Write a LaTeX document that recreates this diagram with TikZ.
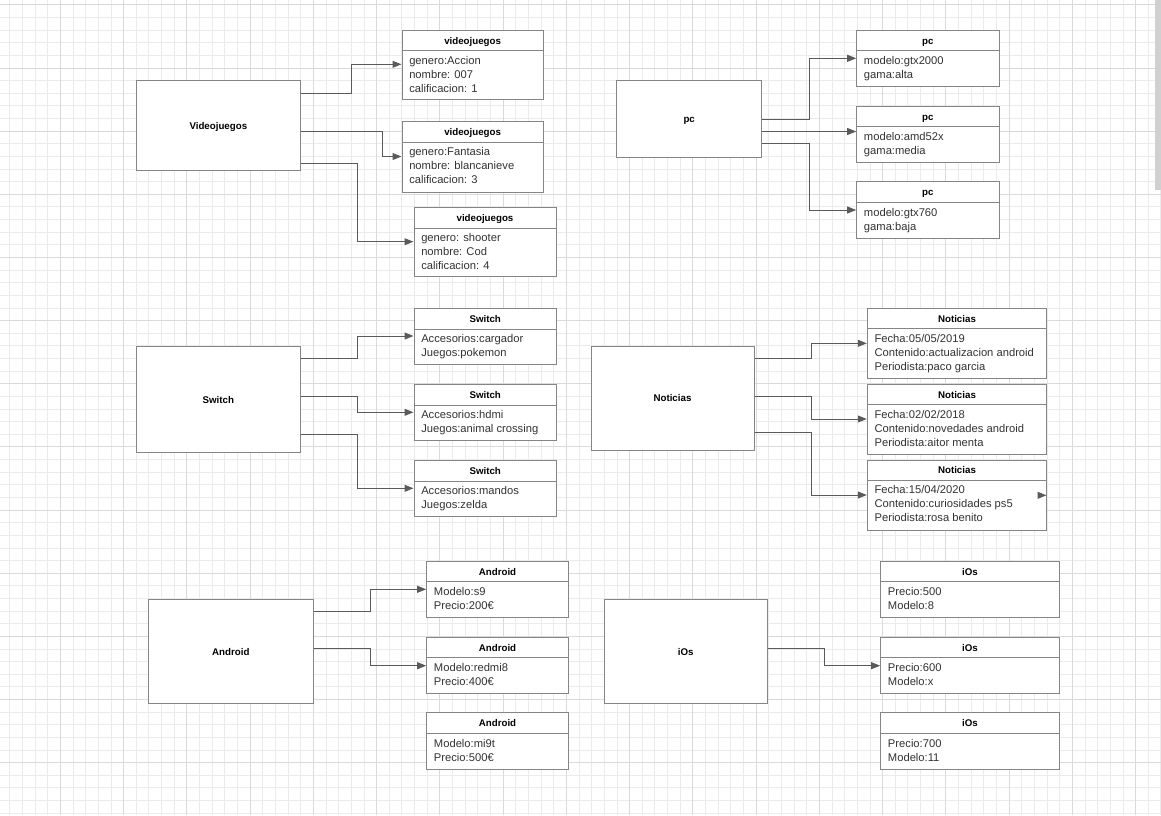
\documentclass[tikz,border=0pt]{standalone}
\usepackage{fontspec}
\setmainfont{Liberation Sans}
\usetikzlibrary{arrows.meta}
\definecolor{gridminor}{HTML}{EBEBEB}
\definecolor{gridmajor}{HTML}{DADADA}
\definecolor{boxline}{HTML}{858585}
\definecolor{connline}{HTML}{5A5A5A}
\definecolor{bodytext}{HTML}{333333}
\definecolor{scrollbar}{HTML}{D0D0D0}

\tikzset{
  mainbox/.style={draw=boxline, line width=0.75pt, fill=white, inner sep=0pt,
    font=\fontsize{7.3}{8.5}\selectfont\bfseries, text=black, text height=6pt, text depth=0.4pt},
  cbox/.style={draw=boxline, line width=0.75pt, fill=white, inner sep=0pt},
  cline/.style={draw=boxline, line width=0.75pt},
  ctitle/.style={inner sep=0pt, font=\fontsize{7.3}{8.5}\selectfont\bfseries, text=black, text height=6pt, text depth=0.4pt},
  cbody/.style={inner sep=0pt, anchor=north west, align=left, text=bodytext,
    font=\fontsize{8.4}{10.5}\selectfont},
  conn/.style={draw=connline, line width=0.75pt, -{Triangle[length=6.75pt,width=5.2pt]}},
  gmin/.style={draw=gridminor, line width=0.6pt},
  gmaj/.style={draw=gridmajor, line width=0.6pt}
}

\newcommand\mainboxnode[6]{%
  \node[mainbox, minimum width={(#4-#2)*0.75pt}, minimum height={(#5-#3)*0.75pt}] (#1) at ({(#2+#4)/2},{(#3+#5)/2}) {#6};}

\newcommand\classbox[8]{%
  \node[cbox, minimum width={(#4-#2)*0.75pt}, minimum height={(#5-#3)*0.75pt}] (#1) at ({(#2+#4)/2},{(#3+#5)/2}) {};
  \draw[cline] (#1.west |- 0,#6) -- (#1.east |- 0,#6);
  \node[ctitle] (#1-t) at ({(#2+#4)/2},{(#3+#6)/2}) {#7};
  \node[cbody] (#1-b) at ({#2+7},{#6+5.1}) {\rule{0pt}{6.3pt}#8};
}

\begin{document}
\begin{tikzpicture}[x=0.75pt, y=-0.75pt]
\useasboundingbox (0,0) rectangle (1161,815);
\fill[white] (0,0) rectangle (1161,815);

% grid
\foreach \i in {0,...,91} \draw[gmin] ({9.7+\i*12.65},0) -- ({9.7+\i*12.65},815);
\foreach \j in {0,...,64} \draw[gmin] (0,{4.8+\j*12.63}) -- (1161,{4.8+\j*12.63});
\foreach \i in {4,9,...,89} \draw[gmaj] ({9.7+\i*12.65},0) -- ({9.7+\i*12.65},815);
\foreach \j in {0,5,...,60} \draw[gmaj] (0,{4.8+\j*12.63}) -- (1161,{4.8+\j*12.63});

% scrollbar
\fill[scrollbar] (1155,0) rectangle (1161,190);

% ---------- Videojuegos ----------
\mainboxnode{vjm}{136}{80.7}{300.7}{170}{Videojuegos}
\classbox{vj1}{402}{30}{543.3}{99.5}{50.7}{videojuegos}{genero:Accion\\nombre: 007\\calificacion: 1}
\classbox{vj2}{402}{121.7}{543.3}{192}{142}{videojuegos}{genero:Fantasia\\nombre: blancanieve\\calificacion: 3}
\classbox{vj3}{414}{207.3}{556}{276.7}{228}{videojuegos}{genero: shooter\\nombre: Cod\\calificacion: 4}
\draw[conn] (vjm.east |- 0,93) -- (351,93) |- (vj1.west |- 0,64.3);
\draw[conn] (vjm.east |- 0,131.5) -- (382.7,131.5) |- (vj2.west |- 0,156.5);
\draw[conn] (vjm.east |- 0,163.3) -- (357.3,163.3) |- (vj3.west |- 0,241.7);

% ---------- pc ----------
\mainboxnode{pcm}{616.7}{80.7}{761.7}{157}{pc}
\classbox{pc1}{856.7}{30.3}{999}{86}{50.5}{pc}{modelo:gtx2000\\gama:alta}
\classbox{pc2}{856.7}{106}{999}{162.3}{126.7}{pc}{modelo:amd52x\\gama:media}
\classbox{pc3}{856.7}{181.7}{999}{238.3}{202.3}{pc}{modelo:gtx760\\gama:baja}
\draw[conn] (pcm.east |- 0,119) -- (809.3,119) |- (pc1.west |- 0,58.3);
\draw[conn] (pcm.east |- 0,131.5) -- (pc2.west |- 0,131.5);
\draw[conn] (pcm.east |- 0,143.3) -- (809.3,143.3) |- (pc3.west |- 0,210);

% ---------- Switch ----------
\mainboxnode{swm}{136}{346}{300.7}{452.7}{Switch}
\classbox{sw1}{414}{308.3}{556.5}{364}{329}{Switch}{Accesorios:cargador\\Juegos:pokemon}
\classbox{sw2}{414}{384.3}{556.5}{440}{405}{Switch}{Accesorios:hdmi\\Juegos:animal crossing}
\classbox{sw3}{414}{460}{556.5}{516}{481}{Switch}{Accesorios:mandos\\Juegos:zelda}
\draw[conn] (swm.east |- 0,358.3) -- (357.3,358.3) |- (sw1.west |- 0,336);
\draw[conn] (swm.east |- 0,396.7) -- (357.3,396.7) |- (sw2.west |- 0,412.3);
\draw[conn] (swm.east |- 0,434.7) -- (357.3,434.7) |- (sw3.west |- 0,488.3);

% ---------- Noticias ----------
\mainboxnode{nm}{591}{346}{754}{450}{Noticias}
\classbox{n1}{867.3}{308.3}{1046.7}{378.3}{328.5}{Noticias}{Fecha:05/05/2019\\Contenido:actualizacion android\\Periodista:paco garcia}
\classbox{n2}{867.3}{384.3}{1046.7}{454}{404.3}{Noticias}{Fecha:02/02/2018\\Contenido:novedades android\\Periodista:aitor menta}
\classbox{n3}{867.3}{460}{1046.7}{530}{480}{Noticias}{Fecha:15/04/2020\\Contenido:curiosidades ps5\\Periodista:rosa benito}
\draw[conn] (nm.east |- 0,358.3) -- (811,358.3) |- (n1.west |- 0,343.3);
\draw[conn] (nm.east |- 0,396) -- (811,396) |- (n2.west |- 0,419);
\draw[conn] (nm.east |- 0,432.7) -- (811,432.7) |- (n3.west |- 0,495);
\coordinate (strayA) at (1037.5,495.3);
\coordinate (strayB) at (1046.5,495.3);
\draw[conn] (strayA) -- (strayB);

% ---------- Android ----------
\mainboxnode{am}{148.3}{599.3}{313.3}{703.3}{Android}
\classbox{a1}{426.7}{561.7}{568.3}{617.3}{581.7}{Android}{Modelo:s9\\Precio:200€}
\classbox{a2}{426.7}{637.3}{568.3}{693.3}{657.3}{Android}{Modelo:redmi8\\Precio:400€}
\classbox{a3}{426.7}{712.7}{568.3}{769}{733.3}{Android}{Modelo:mi9t\\Precio:500€}
\draw[conn] (am.east |- 0,611.3) -- (370,611.3) |- (a1.west |- 0,589.3);
\draw[conn] (am.east |- 0,648.7) -- (370,648.7) |- (a2.west |- 0,665.7);

% ---------- iOs ----------
\mainboxnode{im}{604}{599.3}{767.3}{703.3}{iOs}
\classbox{i1}{880.7}{561.7}{1059.3}{617.3}{581.7}{iOs}{Precio:500\\Modelo:8}
\classbox{i2}{880.7}{637.3}{1059.3}{693.3}{657.3}{iOs}{Precio:600\\Modelo:x}
\classbox{i3}{880.7}{712.7}{1059.3}{769}{733.3}{iOs}{Precio:700\\Modelo:11}
\draw[conn] (im.east |- 0,648.7) -- (824,648.7) |- (i2.west |- 0,665.7);
\end{tikzpicture}
\end{document}
